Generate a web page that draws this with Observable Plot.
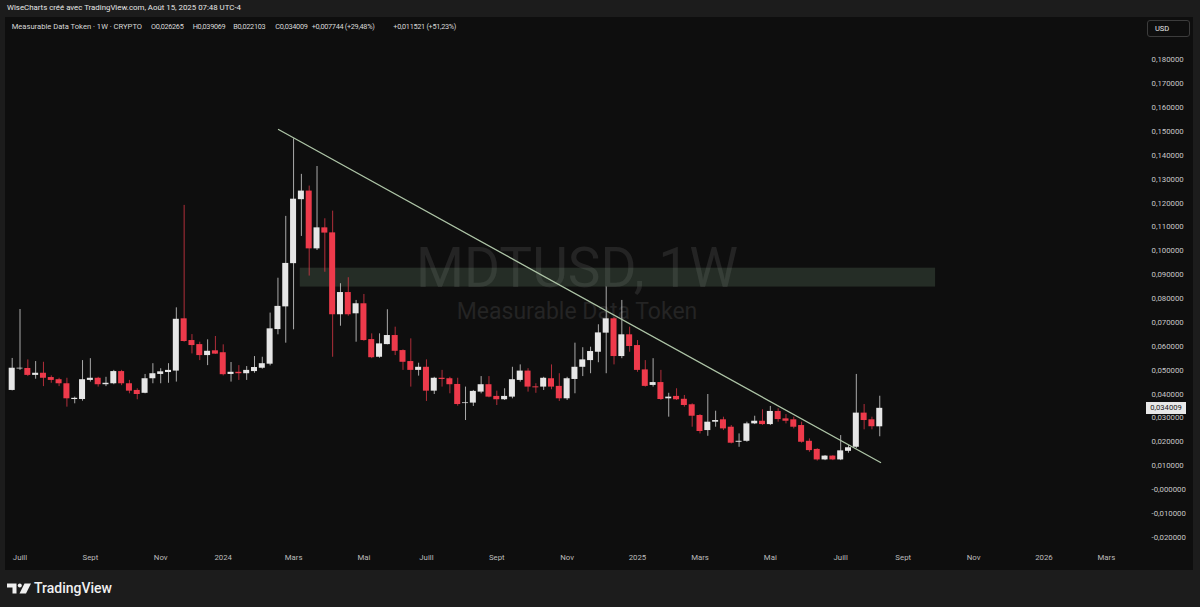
<!DOCTYPE html>
<html><head><meta charset="utf-8">
<script src="https://cdn.jsdelivr.net/npm/d3@7"></script>
<script src="https://cdn.jsdelivr.net/npm/@observablehq/plot@0.6"></script>
<style>
html,body{margin:0;padding:0;background:#1c1c1c;width:1200px;height:607px;overflow:hidden;font-family:Roboto,"Liberation Sans",sans-serif;}
#hdr{position:absolute;left:7px;top:3px;font-size:7.85px;color:#e6e6e6;white-space:nowrap;}
#pane{position:absolute;left:5px;top:17px;width:1188px;height:553px;background:#0e0e0e;overflow:hidden;}
#pane svg{position:absolute;left:0;top:0;}
.lg{position:absolute;top:5px;font-size:7.6px;color:#d8d8d8;white-space:nowrap;}
.lg.num{font-size:7.3px;letter-spacing:-0.3px;}
#usd{position:absolute;left:1142px;top:3px;width:43px;height:17px;border:1px solid #3c3c3c;border-radius:3px;font-size:7.5px;color:#e6e6e6;line-height:16px;padding-left:7px;box-sizing:border-box;background:#0e0e0e;}
#last{position:absolute;left:1141px;width:40px;height:12px;background:#e8e8e8;color:#202020;font-size:7.6px;line-height:12px;text-align:center;}
#footer{position:absolute;left:7px;top:580px;height:16px;display:flex;align-items:center;color:#f0f0f0;font-size:14px;font-weight:500;}
#footer svg{margin-right:3px;}
</style>
</head><body>
<div id="hdr">WiseCharts créé avec TradingView.com, Août 15, 2025 07:48 UTC-4</div>
<div id="pane">
  <div id="usd">USD</div>
</div>
<div id="footer"><svg width="24" height="11" viewBox="0 0 24 11"><path d="M0 0.5h9.5v10H5.5V4.5H0z" fill="#f0f0f0"/><circle cx="12.8" cy="2.5" r="2" fill="#f0f0f0"/><path d="M17.5 0.5H24L19 10.5h-6.5z" fill="#f0f0f0"/></svg><span>TradingView</span></div>
<script>
// ---- data (weekly candles, MDT/USD) ----
const startWeek = "2023-06-26";
const open  = [0.0415,0.0505,0.0507,0.0478,0.0487,0.0469,0.0460,0.0443,0.0377,0.0377,
  0.0457,0.0466,0.0439,0.0443,0.0494,0.0443,0.0415,0.0403,0.0464,0.0482,
  0.0490,0.0496,0.0715,0.0624,0.0607,0.0561,0.0581,0.0573,0.0482,0.0491,
  0.0485,0.0494,0.0508,0.0525,0.0670,0.0765,0.0946,0.1214,0.1250,0.1008,
  0.1096,0.1075,0.0732,0.0825,0.0736,0.0778,0.0628,0.0554,0.0607,0.0645,
  0.0582,0.0536,0.0499,0.0512,0.0412,0.0466,0.0464,0.0440,0.0360,0.0362,
  0.0408,0.0439,0.0390,0.0376,0.0387,0.0457,0.0496,0.0430,0.0429,0.0464,
  0.0432,0.0380,0.0461,0.0512,0.0540,0.0575,0.0655,0.0715,0.0557,0.0648,
  0.0603,0.0501,0.0436,0.0448,0.0380,0.0390,0.0378,0.0355,0.0310,0.0247,
  0.0282,0.0292,0.0261,0.0198,0.0202,0.0275,0.0286,0.0272,0.0327,0.0296,
  0.0292,0.0268,0.0202,0.0168,0.0124,0.0140,0.0124,0.0160,0.0177,0.0320,
  0.0292,0.026265];
const high  = [0.0549,0.0754,0.0543,0.0536,0.0533,0.0476,0.0466,0.0466,0.0387,0.0540,
  0.0548,0.0470,0.0470,0.0499,0.0499,0.0457,0.0422,0.0482,0.0527,0.0506,
  0.0527,0.0761,0.1190,0.0649,0.0617,0.0627,0.0641,0.0606,0.0532,0.0519,
  0.0515,0.0557,0.0554,0.0739,0.0885,0.1144,0.1469,0.1320,0.1271,0.1353,
  0.1134,0.1166,0.0862,0.0887,0.0792,0.0817,0.0652,0.0652,0.0753,0.0680,
  0.0585,0.0631,0.0529,0.0543,0.0470,0.0499,0.0470,0.0466,0.0429,0.0415,
  0.0473,0.0473,0.0412,0.0422,0.0512,0.0522,0.0506,0.0443,0.0470,0.0522,
  0.0485,0.0470,0.0613,0.0594,0.0596,0.0690,0.0848,0.0720,0.0792,0.0680,
  0.0624,0.0540,0.0548,0.0499,0.0403,0.0422,0.0394,0.0359,0.0314,0.0398,
  0.0328,0.0303,0.0268,0.0233,0.0282,0.0307,0.0334,0.0348,0.0338,0.0314,
  0.0303,0.0282,0.0212,0.0171,0.0142,0.0142,0.0226,0.0184,0.0482,0.0356,
  0.0303,0.039069];
const low   = [0.0413,0.0499,0.0473,0.0462,0.0431,0.0445,0.0431,0.0345,0.0359,0.0370,
  0.0450,0.0429,0.0431,0.0439,0.0435,0.0401,0.0376,0.0401,0.0443,0.0443,
  0.0445,0.0450,0.0617,0.0568,0.0540,0.0519,0.0566,0.0476,0.0450,0.0457,
  0.0457,0.0487,0.0504,0.0518,0.0648,0.0613,0.0669,0.1060,0.0894,0.1001,
  0.0910,0.0554,0.0684,0.0726,0.0617,0.0621,0.0548,0.0550,0.0606,0.0561,
  0.0499,0.0429,0.0475,0.0369,0.0398,0.0429,0.0401,0.0349,0.0289,0.0348,
  0.0401,0.0384,0.0352,0.0373,0.0380,0.0450,0.0408,0.0403,0.0415,0.0418,
  0.0369,0.0373,0.0401,0.0473,0.0485,0.0531,0.0485,0.0522,0.0548,0.0575,
  0.0491,0.0429,0.0429,0.0373,0.0303,0.0373,0.0345,0.0261,0.0233,0.0223,
  0.0261,0.0247,0.0191,0.0177,0.0198,0.0272,0.0269,0.0268,0.0282,0.0275,
  0.0254,0.0194,0.0156,0.0119,0.0121,0.0121,0.0121,0.0152,0.0171,0.0250,
  0.0250,0.022103];
const close = [0.0508,0.0508,0.0478,0.0487,0.0466,0.0457,0.0443,0.0380,0.0382,0.0460,
  0.0466,0.0439,0.0445,0.0494,0.0443,0.0412,0.0398,0.0464,0.0485,0.0493,
  0.0499,0.0713,0.0620,0.0603,0.0561,0.0579,0.0567,0.0481,0.0491,0.0485,
  0.0499,0.0511,0.0527,0.0673,0.0767,0.0947,0.1216,0.1250,0.1008,0.1096,
  0.1074,0.0732,0.0825,0.0732,0.0778,0.0624,0.0552,0.0610,0.0645,0.0579,
  0.0533,0.0499,0.0512,0.0412,0.0466,0.0461,0.0439,0.0356,0.0363,0.0411,
  0.0439,0.0387,0.0376,0.0390,0.0460,0.0496,0.0429,0.0426,0.0466,0.0429,
  0.0380,0.0464,0.0512,0.0543,0.0578,0.0656,0.0715,0.0557,0.0648,0.0599,
  0.0499,0.0432,0.0448,0.0377,0.0387,0.0376,0.0352,0.0307,0.0243,0.0282,
  0.0289,0.0254,0.0194,0.0202,0.0275,0.0286,0.0272,0.0327,0.0293,0.0286,
  0.0261,0.0198,0.0163,0.0124,0.0140,0.0124,0.0162,0.0175,0.0320,0.0289,
  0.0263,0.034009];

const trendDates  = ["2024-02-19T12:00Z", "2025-08-11T17:00Z"];
const trendValues = [0.1508, 0.0113];
const bandDates   = ["2024-03-10", "2025-09-30"];
const bandValues  = [0.0848, 0.0927];

const xTickDates  = ["2023-07-03","2023-09-04","2023-11-06","2024-01-01","2024-03-04","2024-05-06",
  "2024-07-01","2024-09-02","2024-11-04","2025-01-06","2025-03-03","2025-05-05","2025-07-07",
  "2025-09-01","2025-11-03","2026-01-05","2026-03-02"];
const xTickLabels = ["Juill","Sept","Nov","2024","Mars","Mai","Juill","Sept","Nov","2025","Mars","Mai","Juill","Sept","Nov","2026","Mars"];
const yTicks      = [-0.02,-0.01,0,0.01,0.02,0.03,0.04,0.05,0.06,0.07,0.08,0.09,0.10,0.11,0.12,0.13,0.14,0.15,0.16,0.17,0.18];
const yTickLabels = ["-0,020000","-0,010000","-0,000000","0,010000","0,020000","0,030000","0,040000","0,050000",
  "0,060000","0,070000","0,080000","0,090000","0,100000","0,110000","0,120000","0,130000","0,140000",
  "0,150000","0,160000","0,170000","0,180000"];

const legendParts = [
  ["Measurable Data Token · 1W · CRYPTO", 6.7, false],
  ["O0,026265", 146, true], ["H0,039069", 187.7, true], ["B0,022103", 228.3, true], ["C0,034009", 270.3, true],
  ["+0,007744 (+29,48%)", 306.7, true], ["+0,011521 (+51,23%)", 388.3, true]
];
const symbolTitle = "MDTUSD, 1W";
const symbolName  = "Measurable Data Token";

// ---- chart ----
const DAY = 864e5, WEEK = 7 * DAY;
const start = new Date(startWeek + "T00:00Z");
const dates = open.map((_, i) => d3.utcMonday.offset(start, i));
const idx = d3.range(open.length);
const upColor = "#e6e6e6", downColor = "#ee3a4b";
const col = i => close[i] >= open[i] ? upColor : downColor;
const wkAt = w => new Date(+start + w * WEEK);

const chart = Plot.plot({
  width: 1188, height: 553,
  marginLeft: 0, marginRight: 53, marginTop: 0, marginBottom: 22,
  style: {background: "transparent", color: "#c4c4c4", fontFamily: "Roboto, 'Liberation Sans', sans-serif", fontSize: "7.8px"},
  x: {type: "utc", domain: [wkAt(-0.857), wkAt(144.36)], axis: null},
  y: {domain: [-0.0247, 0.1977], axis: null},
  color: {type: "identity"},
  marks: [
    Plot.text([symbolTitle], {frameAnchor: "middle", dx: 4, dy: -35.5, lineAnchor: "top", fontSize: 55, fill: "#242424"}),
    Plot.text([symbolName], {frameAnchor: "middle", dx: 4, dy: 19.5, lineAnchor: "top", fontSize: 23, fill: "#242424"}),
    Plot.rect([0], {x1: () => new Date(bandDates[0]), x2: () => new Date(bandDates[1]),
      y1: () => bandValues[0], y2: () => bandValues[1], fill: "#6f9474", fillOpacity: 0.24}),
    Plot.ruleX(idx, {x: i => dates[i], y1: i => low[i], y2: i => high[i], stroke: col, strokeOpacity: 0.72, strokeWidth: 1}),
    Plot.rect(idx, {x1: i => new Date(+dates[i] - 3.5 * DAY), x2: i => new Date(+dates[i] + 3.5 * DAY),
      insetLeft: 0.9, insetRight: 0.9, y1: i => open[i], y2: i => close[i], fill: col}),
    Plot.line(trendDates.map((d, i) => ({d: new Date(d), v: trendValues[i]})), {x: "d", y: "v", stroke: "#adc4a6", strokeWidth: 1.3}),
    Plot.axisY(yTicks, {anchor: "right", tickSize: 0, tickPadding: 11, textAnchor: "start",
      tickFormat: (d, i) => yTickLabels[i], fill: "#c8c8c8"}),
    Plot.text(xTickDates.map(d => new Date(d)), {x: d => d, text: (d, i) => xTickLabels[i], frameAnchor: "bottom", dy: 11, fill: "#bcbcbc"})
  ]
});
const pane = document.getElementById("pane");
pane.insertBefore(chart, pane.firstChild);

legendParts.forEach(([t, x, num]) => {
  const s = document.createElement("div");
  s.className = num ? "lg num" : "lg"; s.textContent = t; s.style.left = x + "px";
  pane.appendChild(s);
});
const last = document.createElement("div");
last.id = "last";
last.textContent = "0,034009";
last.style.top = (chart.scale("y").apply(close[close.length - 1]) - 6) + "px";
pane.appendChild(last);
</script>
</body></html>
